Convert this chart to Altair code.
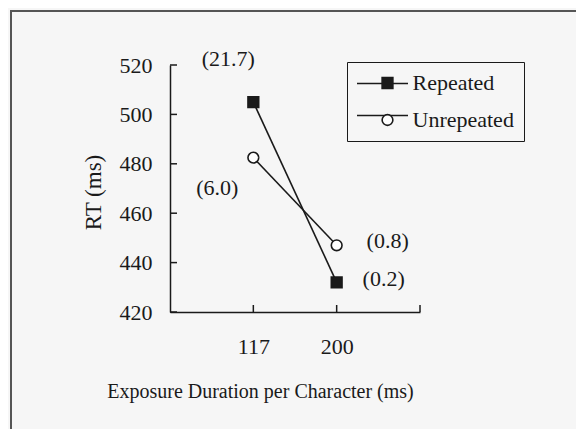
import altair as alt
import pandas as pd

# ---- data ----
durations = ["117", "200"]
series_names = ["Repeated", "Unrepeated"]
rt_repeated = [505, 432]
rt_unrepeated = [482.5, 447]
err_repeated = ["(21.7)", "(0.2)"]
err_unrepeated = ["(6.0)", "(0.8)"]
y_ticks = [420, 440, 460, 480, 500, 520]
x_ticks = [1, 2, 3]

FONT = "Liberation Serif"
INK = "#1a1a1a"
W, H = 250, 247

rows = []
for i, d in enumerate(durations):
    rows.append({"pos": i + 1, "dur": d, "series": "Repeated", "series_l": "Repeated ",
                 "rt": rt_repeated[i], "err": err_repeated[i]})
    rows.append({"pos": i + 1, "dur": d, "series": "Unrepeated", "series_l": "Unrepeated ",
                 "rt": rt_unrepeated[i], "err": err_unrepeated[i]})
df = pd.DataFrame(rows)

label_expr = " : ".join(f"datum.value == {i + 1} ? '{d}'" for i, d in enumerate(durations)) + " : ''"

xscale = alt.Scale(domain=[0, 3], nice=False, zero=False)
yscale = alt.Scale(domain=[420, 520], nice=False, zero=False)

x_enc = alt.X("pos:Q", scale=xscale,
              axis=alt.Axis(values=x_ticks, labelExpr=label_expr, ticks=False, tickSize=0,
                            grid=False, domainColor=INK, domainWidth=1.5,
                            labelFont=FONT, labelFontSize=22, labelColor=INK, labelPadding=24,
                            title="Exposure Duration per Character (ms)",
                            titleFont=FONT, titleFontSize=20, titleFontWeight="normal",
                            titleColor=INK, titleX=90, titleY=85, titleBaseline="alphabetic",
                            titleAlign="center"))
y_enc = alt.Y("rt:Q", scale=yscale,
              axis=alt.Axis(values=y_ticks, ticks=False, tickSize=0, grid=False,
                            domainColor=INK, domainWidth=1.5,
                            labelFont=FONT, labelFontSize=22, labelColor=INK, labelPadding=18,
                            title="RT (ms)", titleFont=FONT, titleFontSize=23,
                            titleFontWeight="normal", titleColor=INK, titleX=-70, titleY=127,
                            titleBaseline="alphabetic", titleAlign="center", titleAngle=-90))

base = alt.Chart(df)

lines = base.mark_line(strokeWidth=1.6).encode(
    x=x_enc, y=y_enc, detail="series:N",
    color=alt.Color("series_l:N", scale=alt.Scale(range=[INK, INK]),
                    legend=alt.Legend(orient="none", legendX=186, legendY=-8, title=None,
                                      direction="vertical", symbolType="stroke",
                                      symbolSize=2601, symbolStrokeWidth=1.6,
                                      labelExpr="''", padding=0, rowPadding=-15.5,
                                      zindex=0)),
)

points = base.mark_point(size=115, strokeWidth=1.6, opacity=1).encode(
    x="pos:Q", y="rt:Q",
    shape=alt.Shape("series:N", scale=alt.Scale(domain=series_names, range=["square", "circle"]),
                    legend=alt.Legend(orient="none", legendX=177, legendY=-3, title=None,
                                      direction="vertical", strokeColor=INK, padding=10,
                                      symbolOffset=19.5, labelOffset=14, rowPadding=15,
                                      labelFont=FONT, labelFontSize=22, labelColor=INK,
                                      symbolSize=115, symbolStrokeWidth=1.6,
                                      symbolStrokeColor=INK, zindex=1)),
    fill=alt.Fill("series:N", scale=alt.Scale(domain=series_names, range=[INK, "white"]),
                  legend=None),
    stroke=alt.Stroke("series:N", scale=alt.Scale(domain=series_names, range=[INK, INK]),
                      legend=None),
)

# ---- tick marks drawn inward ----
tick_df = pd.DataFrame({"v": y_ticks})
ytick_layer = alt.Chart(tick_df).mark_rule(color=INK, strokeWidth=1.5).encode(
    y=alt.Y("v:Q", scale=yscale), x=alt.value(0), x2=alt.value(7))
xtick_df = pd.DataFrame({"v": x_ticks})
xtick_layer = alt.Chart(xtick_df).mark_rule(color=INK, strokeWidth=1.5).encode(
    x=alt.X("v:Q", scale=xscale), y=alt.value(H), y2=alt.value(H - 7))

# ---- annotations (error rates) ----
offsets = {("Repeated", 1): (-25, -43), ("Repeated", 2): (47, -3),
           ("Unrepeated", 1): (-36, 30), ("Unrepeated", 2): (51, -4)}
ann_layers = []
for (s, p), (dx, dy) in offsets.items():
    ann_layers.append(
        base.transform_filter((alt.datum.series == s) & (alt.datum.pos == p))
        .mark_text(font=FONT, fontSize=22, color=INK, dx=dx, dy=dy,
                   align="center", baseline="middle")
        .encode(x="pos:Q", y="rt:Q", text="err:N"))

# ---- figure frame (scanned border) ----
frame = alt.Chart(pd.DataFrame({"a": [0]})).mark_rect(
    filled=False, stroke="#555555", strokeWidth=2).encode(
    x=alt.value(-159), x2=alt.value(413), y=alt.value(-54), y2=alt.value(420))

chart = alt.layer(frame, ytick_layer, xtick_layer, lines, points, *ann_layers).properties(
    width=W, height=H,
    autosize=alt.AutoSizeParams(type="none"),
    padding={"left": 162, "top": 57, "right": 156, "bottom": 117},
    background="#f6f6f6",
).configure_view(stroke=None).resolve_scale(x="shared", y="shared")

chart.save("out.html", embed_options={"renderer": "svg", "actions": False})
